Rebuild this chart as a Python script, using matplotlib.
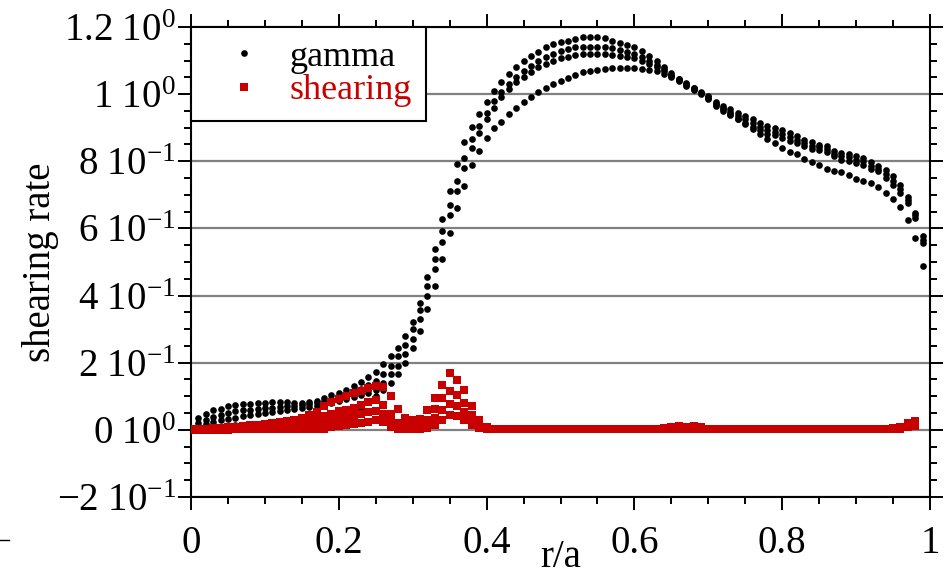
import numpy as np
import matplotlib
matplotlib.use("Agg")
import matplotlib.pyplot as plt
from matplotlib.ticker import MultipleLocator, FixedLocator, FixedFormatter
from matplotlib.lines import Line2D

plt.rcParams['font.family'] = ['Liberation Serif', 'DejaVu Serif']
plt.rcParams['mathtext.fontset'] = 'custom'
plt.rcParams['mathtext.rm'] = 'Liberation Serif'
plt.rcParams['mathtext.it'] = 'Liberation Serif:italic'

# radial grid of the two quantities
gamma_r = np.arange(1, 100) / 100.0
shear_r = np.arange(0, 99) / 100.0

# growth rate, four time slices
gamma_1 = [0.035, 0.047, 0.058, 0.063, 0.070, 0.073, 0.076, 0.077, 0.079, 0.081,
           0.082, 0.082, 0.082, 0.081, 0.081, 0.082, 0.086, 0.095, 0.104, 0.111,
           0.120, 0.130, 0.142, 0.158, 0.172, 0.196, 0.219, 0.245, 0.280, 0.322,
           0.378, 0.455, 0.538, 0.627, 0.712, 0.792, 0.856, 0.903, 0.941, 0.977,
           1.008, 1.035, 1.060, 1.082, 1.100, 1.114, 1.127, 1.140, 1.148, 1.154,
           1.159, 1.164, 1.169, 1.170, 1.170, 1.166, 1.159, 1.153, 1.147, 1.140,
           1.128, 1.114, 1.098, 1.080, 1.062, 1.046, 1.032, 1.019, 1.006, 0.993,
           0.978, 0.965, 0.955, 0.945, 0.935, 0.925, 0.915, 0.905, 0.898, 0.892,
           0.884, 0.874, 0.864, 0.856, 0.850, 0.845, 0.830, 0.825, 0.822, 0.815,
           0.810, 0.797, 0.785, 0.775, 0.755, 0.730, 0.695, 0.647, 0.576]
gamma_2 = [0.020, 0.030, 0.038, 0.045, 0.050, 0.055, 0.058, 0.060, 0.062, 0.064,
           0.066, 0.068, 0.070, 0.072, 0.074, 0.076, 0.080, 0.087, 0.093, 0.100,
           0.107, 0.115, 0.123, 0.133, 0.146, 0.166, 0.190, 0.220, 0.252, 0.300,
           0.356, 0.430, 0.510, 0.592, 0.670, 0.742, 0.810, 0.865, 0.905, 0.945,
           0.980, 1.005, 1.030, 1.050, 1.070, 1.085, 1.098, 1.110, 1.120, 1.128,
           1.134, 1.139, 1.141, 1.141, 1.141, 1.140, 1.136, 1.131, 1.126, 1.120,
           1.110, 1.100, 1.088, 1.074, 1.058, 1.044, 1.030, 1.017, 1.004, 0.990,
           0.972, 0.958, 0.947, 0.936, 0.925, 0.914, 0.903, 0.893, 0.887, 0.881,
           0.872, 0.864, 0.855, 0.847, 0.842, 0.836, 0.822, 0.815, 0.812, 0.805,
           0.800, 0.787, 0.777, 0.762, 0.742, 0.717, 0.685, 0.640, 0.566]
gamma_3 = [0.010, 0.018, 0.024, 0.028, 0.032, 0.036, 0.040, 0.044, 0.048, 0.051,
           0.054, 0.057, 0.060, 0.063, 0.066, 0.069, 0.072, 0.076, 0.080, 0.086,
           0.092, 0.098, 0.104, 0.110, 0.120, 0.140, 0.165, 0.190, 0.225, 0.270,
           0.330, 0.400, 0.480, 0.560, 0.640, 0.710, 0.780, 0.840, 0.885, 0.925,
           0.960, 0.990, 1.015, 1.035, 1.052, 1.067, 1.080, 1.090, 1.100, 1.107,
           1.112, 1.118, 1.121, 1.121, 1.121, 1.120, 1.118, 1.115, 1.112, 1.108,
           1.100, 1.090, 1.080, 1.068, 1.055, 1.042, 1.028, 1.015, 1.002, 0.988,
           0.965, 0.950, 0.938, 0.926, 0.915, 0.903, 0.892, 0.882, 0.877, 0.870,
           0.860, 0.855, 0.845, 0.837, 0.835, 0.827, 0.815, 0.805, 0.800, 0.795,
           0.790, 0.777, 0.770, 0.750, 0.730, 0.705, 0.676, 0.632, 0.556]
gamma_4 = [0.005, 0.008, 0.010, 0.010, 0.012, 0.013, 0.014, 0.015, 0.016, 0.017,
           0.018, 0.018, 0.019, 0.020, 0.020, 0.020, 0.020, 0.020, 0.020, 0.021,
           0.030, 0.044, 0.062, 0.082, 0.100, 0.120, 0.140, 0.165, 0.200, 0.245,
           0.295, 0.360, 0.430, 0.510, 0.585, 0.660, 0.725, 0.790, 0.830, 0.870,
           0.900, 0.918, 0.940, 0.960, 0.977, 0.992, 1.005, 1.017, 1.030, 1.040,
           1.048, 1.057, 1.065, 1.070, 1.073, 1.075, 1.077, 1.078, 1.078, 1.077,
           1.075, 1.072, 1.068, 1.060, 1.050, 1.038, 1.025, 1.012, 1.000, 0.985,
           0.970, 0.955, 0.940, 0.925, 0.910, 0.895, 0.880, 0.866, 0.855, 0.840,
           0.827, 0.822, 0.807, 0.797, 0.790, 0.778, 0.772, 0.767, 0.760, 0.747,
           0.742, 0.735, 0.722, 0.705, 0.688, 0.663, 0.626, 0.571, 0.487]

# ExB shearing rate, four time slices
shear_1 = [0.003, 0.003, 0.004, 0.005, 0.006, 0.008, 0.010, 0.012, 0.013, 0.015,
           0.017, 0.019, 0.022, 0.025, 0.030, 0.036, 0.045, 0.052, 0.070, 0.082,
           0.092, 0.102, 0.110, 0.117, 0.124, 0.132, 0.128, 0.100, 0.062, 0.035,
           0.030, 0.032, 0.060, 0.095, 0.135, 0.168, 0.150, 0.118, 0.070, 0.030,
           0.010, 0.004, 0.003, 0.003, 0.003, 0.003, 0.003, 0.003, 0.003, 0.003,
           0.003, 0.003, 0.003, 0.003, 0.003, 0.003, 0.003, 0.003, 0.003, 0.003,
           0.003, 0.003, 0.003, 0.004, 0.006, 0.010, 0.011, 0.010, 0.011, 0.009,
           0.004, 0.003, 0.003, 0.003, 0.003, 0.003, 0.003, 0.003, 0.003, 0.003,
           0.003, 0.003, 0.003, 0.003, 0.003, 0.003, 0.003, 0.003, 0.003, 0.003,
           0.003, 0.003, 0.003, 0.003, 0.003, 0.006, 0.010, 0.021, 0.025]
shear_2 = [0.002, 0.002, 0.003, 0.003, 0.004, 0.005, 0.006, 0.007, 0.008, 0.009,
           0.010, 0.011, 0.012, 0.014, 0.017, 0.020, 0.025, 0.030, 0.040, 0.048,
           0.055, 0.060, 0.066, 0.073, 0.082, 0.088, 0.075, 0.048, 0.020, 0.012,
           0.010, 0.012, 0.030, 0.062, 0.095, 0.115, 0.105, 0.080, 0.045, 0.018,
           0.006, 0.003, 0.002, 0.002, 0.002, 0.002, 0.002, 0.002, 0.002, 0.002,
           0.002, 0.002, 0.002, 0.002, 0.002, 0.002, 0.002, 0.002, 0.002, 0.002,
           0.002, 0.002, 0.002, 0.003, 0.004, 0.007, 0.008, 0.007, 0.008, 0.006,
           0.003, 0.002, 0.002, 0.002, 0.002, 0.002, 0.002, 0.002, 0.002, 0.002,
           0.002, 0.002, 0.002, 0.002, 0.002, 0.002, 0.002, 0.002, 0.002, 0.002,
           0.002, 0.002, 0.002, 0.002, 0.002, 0.005, 0.008, 0.018, 0.022]
shear_3 = [0.001, 0.001, 0.002, 0.002, 0.002, 0.003, 0.003, 0.004, 0.004, 0.005,
           0.005, 0.006, 0.006, 0.007, 0.009, 0.011, 0.014, 0.017, 0.022, 0.027,
           0.032, 0.036, 0.040, 0.046, 0.052, 0.056, 0.048, 0.028, 0.008, 0.004,
           0.004, 0.006, 0.016, 0.035, 0.060, 0.078, 0.072, 0.052, 0.028, 0.010,
           0.004, 0.002, 0.002, 0.002, 0.002, 0.002, 0.002, 0.002, 0.002, 0.002,
           0.002, 0.002, 0.002, 0.002, 0.002, 0.002, 0.002, 0.002, 0.002, 0.002,
           0.002, 0.002, 0.002, 0.002, 0.003, 0.004, 0.005, 0.004, 0.005, 0.003,
           0.002, 0.002, 0.002, 0.002, 0.002, 0.002, 0.002, 0.002, 0.002, 0.002,
           0.002, 0.002, 0.002, 0.002, 0.002, 0.002, 0.002, 0.002, 0.002, 0.002,
           0.002, 0.002, 0.002, 0.002, 0.002, 0.004, 0.005, 0.010, 0.018]
shear_4 = [0.001, 0.001, 0.001, 0.001, 0.001, 0.001, 0.002, 0.002, 0.002, 0.002,
           0.002, 0.002, 0.002, 0.003, 0.003, 0.003, 0.003, 0.004, 0.004, 0.008,
           0.012, 0.014, 0.017, 0.020, 0.024, 0.028, 0.022, 0.010, 0.003, 0.002,
           0.002, 0.003, 0.006, 0.015, 0.028, 0.045, 0.042, 0.030, 0.015, 0.006,
           0.003, 0.002, 0.002, 0.002, 0.002, 0.002, 0.002, 0.002, 0.002, 0.002,
           0.002, 0.002, 0.002, 0.002, 0.002, 0.002, 0.002, 0.002, 0.002, 0.002,
           0.002, 0.002, 0.002, 0.002, 0.002, 0.003, 0.003, 0.003, 0.003, 0.002,
           0.002, 0.002, 0.002, 0.002, 0.002, 0.002, 0.002, 0.002, 0.002, 0.002,
           0.002, 0.002, 0.002, 0.002, 0.002, 0.002, 0.002, 0.002, 0.002, 0.002,
           0.002, 0.002, 0.002, 0.002, 0.002, 0.003, 0.004, 0.008, 0.012]

gamma_series = [gamma_1, gamma_2, gamma_3, gamma_4]
shear_series = [shear_1, shear_2, shear_3, shear_4]

x_ticks = [0.0, 0.2, 0.4, 0.6, 0.8, 1.0]
x_tick_labels = ['0', '0.2', '0.4', '0.6', '0.8', '1']
y_ticks = [-0.2, 0.0, 0.2, 0.4, 0.6, 0.8, 1.0, 1.2]
y_tick_labels = [r'$\mathregular{-2\ 10^{-1}}$', r'$\mathregular{0\ 10^{0}}$',
                 r'$\mathregular{2\ 10^{-1}}$', r'$\mathregular{4\ 10^{-1}}$',
                 r'$\mathregular{6\ 10^{-1}}$', r'$\mathregular{8\ 10^{-1}}$',
                 r'$\mathregular{1\ 10^{0}}$', r'$\mathregular{1.2\ 10^{0}}$']

RED = '#c80000'
FS = 28

fig = plt.figure(figsize=(9.48, 5.77), dpi=100)
ax = fig.add_axes([191 / 948, 80 / 577, 739 / 948, 470 / 577])

for i, g in enumerate(gamma_series):
    ax.plot(gamma_r, g, linestyle='none', marker='o', ms=4.8, mew=0,
            color='black', zorder=3, label='gamma' if i == 0 else None)
for i, s in enumerate(shear_series):
    ax.plot(shear_r, s, linestyle='none', marker='s', ms=5.6, mew=0,
            color=RED, zorder=4, label='shearing' if i == 0 else None)

ax.set_xlim(0, 1)
ax.set_ylim(-0.2, 1.2)

ax.xaxis.set_major_locator(FixedLocator(x_ticks))
ax.xaxis.set_major_formatter(FixedFormatter(x_tick_labels))
ax.xaxis.set_minor_locator(MultipleLocator(0.05))
ax.yaxis.set_major_locator(FixedLocator(y_ticks))
ax.yaxis.set_major_formatter(FixedFormatter(y_tick_labels))
ax.yaxis.set_minor_locator(MultipleLocator(0.05))

ax.yaxis.grid(True, which='major', color='#808080', lw=1.6)
ax.set_axisbelow(True)

for sp in ax.spines.values():
    sp.set_linewidth(1.5)

ax.tick_params(which='both', direction='out', width=1.4,
               top=True, right=True, labeltop=False, labelright=False)
ax.tick_params(which='major', length=9.4)
ax.tick_params(which='minor', length=4.7)
ax.tick_params(axis='x', which='major', labelsize=FS, pad=11)
ax.tick_params(axis='y', which='major', labelsize=FS, pad=1.5)

ax.set_xlabel('r/a', fontsize=FS)
ax.xaxis.set_label_coords(0.5, -0.09)
ax.set_ylabel('shearing rate', fontsize=FS)
ax.yaxis.set_label_coords(-0.178, 0.5)

leg = ax.legend(loc='upper left', bbox_to_anchor=(0, 1), borderaxespad=0,
                fontsize=26, frameon=True, fancybox=False, framealpha=1,
                edgecolor='black', borderpad=0.38, labelspacing=0.0,
                handlelength=2.2, handletextpad=0.15, numpoints=1)
leg.get_frame().set_linewidth(1.5)
leg.get_texts()[1].set_color(RED)

fig.add_artist(Line2D([0.0, 0.009], [0.064, 0.064], color='black', lw=1))

fig.savefig('out.png', dpi=100)
